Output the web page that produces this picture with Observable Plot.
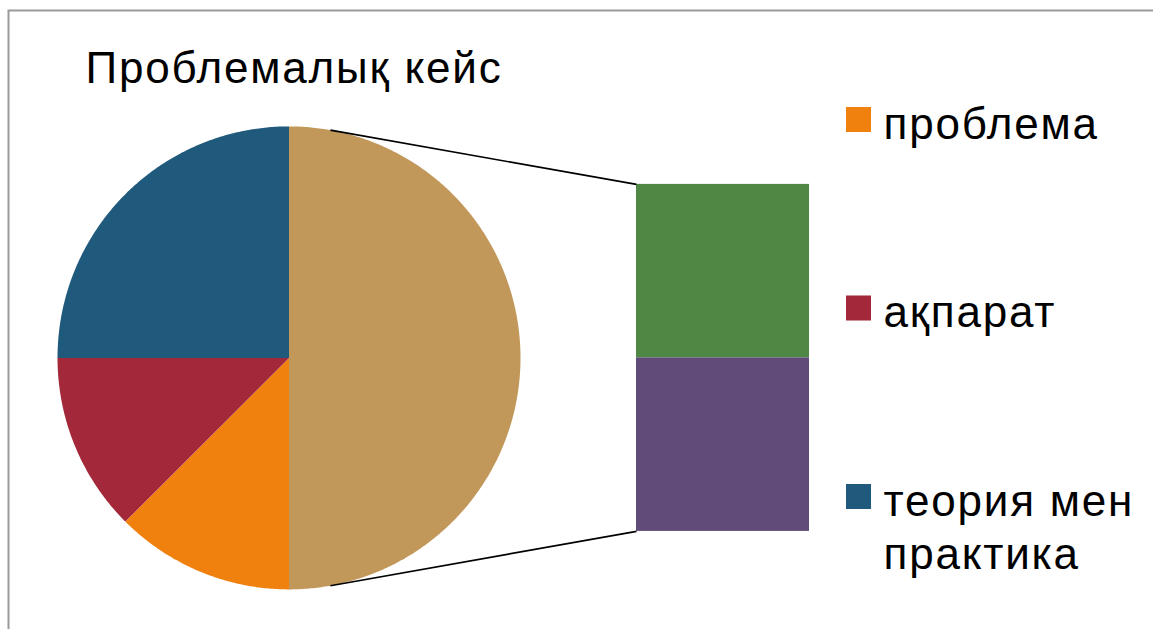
<!DOCTYPE html>
<html>
<head>
<meta charset="utf-8">
<script src="https://cdn.jsdelivr.net/npm/d3@7"></script>
<script src="https://cdn.jsdelivr.net/npm/@observablehq/plot@0.6"></script>
<style>
  html, body { margin: 0; padding: 0; background: #fff; overflow: hidden; }
  #chart { width: 1153px; height: 629px; }
  #chart svg text { letter-spacing: 1.8px; }
</style>
</head>
<body>
<div id="chart"></div>
<script>
// ---- data ----
const title = "Проблемалық кейс";
const pieLabels = ["проблема", "ақпарат", "теория мен практика"];
const pieValues = [12.5, 12.5, 25];
const pieColors = ["#F0810F", "#A2283A", "#1F5A7C"];
const barLabels = ["бөлік 1", "бөлік 2"];      // secondary bar (top → bottom)
const barValues = [25, 25];
const barColors = ["#4F8844", "#614B78"];
const otherColor = "#C2975A";
const legendLabels = ["проблема", "ақпарат", "теория мен\nпрактика"];

// ---- layout (pixels) ----
const W = 1153, H = 629;
const cx = 288.5, cy = 357.4, R = 231.5;        // pie centre / radius
const barLeft = 636, barRight = 809;             // bar of pie
const barPxPerPct = 347 / 50;
const connectorAngle = 10.3;                     // degrees from 12 o'clock
const fontFamily = "Liberation Sans, Arial, sans-serif";
const fontSize = 44;
const legendLineHeight = 1.2;
const lineOffset = 0.71 * (legendLineHeight - 1) * fontSize; // plot scales the top offset by lineHeight

// pixel → pie units
const ux = px => (px - cx) / R;
const uy = py => (cy - py) / R;

// ---- pie slices (clockwise from 12 o'clock), "other" = sum of bar ----
const otherValue = d3.sum(barValues);
const slices = [
  {label: "other", value: otherValue, color: otherColor},
  ...pieLabels.map((l, i) => ({label: l, value: pieValues[i], color: pieColors[i]}))
];
const total = d3.sum(slices, d => d.value);
let cum = 0;
const slicePts = [];
for (const s of slices) {
  const a0 = cum / total * 2 * Math.PI;
  cum += s.value;
  const a1 = cum / total * 2 * Math.PI;
  slicePts.push({slice: s.label, color: s.color, x: 0, y: 0});
  const n = Math.max(2, Math.ceil((a1 - a0) / (Math.PI / 360)));
  for (let k = 0; k <= n; k++) {
    const a = a0 + (a1 - a0) * k / n;
    slicePts.push({slice: s.label, color: s.color, x: Math.sin(a), y: Math.cos(a)});
  }
}

// ---- bar segments, centred on the pie's horizontal axis ----
const barUnit = barPxPerPct / R;
const barTotal = d3.sum(barValues) * barUnit;
let barCursor = barTotal / 2;
const barRects = barValues.map((v, i) => {
  const y2 = barCursor, y1 = barCursor - v * barUnit;
  barCursor = y1;
  return {label: barLabels[i], color: barColors[i], x1: ux(barLeft), x2: ux(barRight), y1, y2};
});

// ---- connector lines ----
const ca = connectorAngle * Math.PI / 180;
const links = [
  {x1: Math.sin(ca), y1: Math.cos(ca), x2: ux(barLeft), y2: barTotal / 2},
  {x1: Math.sin(Math.PI - ca), y1: Math.cos(Math.PI - ca), x2: ux(barLeft), y2: -barTotal / 2}
];

// ---- legend ----
const legendTop = 107, legendStep = 188.5, sq = 25, legendX = 846, legendTextX = 883;
const legend = legendLabels.map((l, i) => ({
  label: l, color: pieColors[i],
  x1: ux(legendX), x2: ux(legendX + sq),
  y2: uy(legendTop + i * legendStep), y1: uy(legendTop + i * legendStep + sq),
  tx: ux(legendTextX), ty: uy(legendTop + i * legendStep - lineOffset)
}));

const chart = Plot.plot({
  width: W, height: H,
  margin: 0,
  x: {domain: [ux(0), ux(W)], range: [0, W], axis: null},
  y: {domain: [uy(H), uy(0)], range: [H, 0], axis: null},
  color: {type: "identity"},
  style: {background: "#fff", fontFamily},
  marks: [
    Plot.frame({stroke: "#9a9a9a", strokeWidth: 2, insetLeft: 8, insetTop: 10, insetRight: -4, insetBottom: -4}),
    Plot.line(slicePts, {x: "x", y: "y", z: "slice", fill: "color", stroke: null, curve: "linear-closed"}),
    Plot.rect(barRects, {x1: "x1", x2: "x2", y1: "y1", y2: "y2", fill: "color"}),
    Plot.link(links, {x1: "x1", y1: "y1", x2: "x2", y2: "y2", stroke: "#000", strokeWidth: 1.6}),
    Plot.text([title], {x: ux(85), y: uy(51), text: d => d, lineAnchor: "top", textAnchor: "start",
      fontSize, fontFamily, fill: "#000"}),
    Plot.rect(legend, {x1: "x1", x2: "x2", y1: "y1", y2: "y2", fill: "color"}),
    Plot.text(legend, {x: "tx", y: "ty", text: "label", lineAnchor: "top", textAnchor: "start",
      fontSize, lineHeight: legendLineHeight, fontFamily, fill: "#000"})
  ]
});
document.getElementById("chart").appendChild(chart);
</script>
</body>
</html>
